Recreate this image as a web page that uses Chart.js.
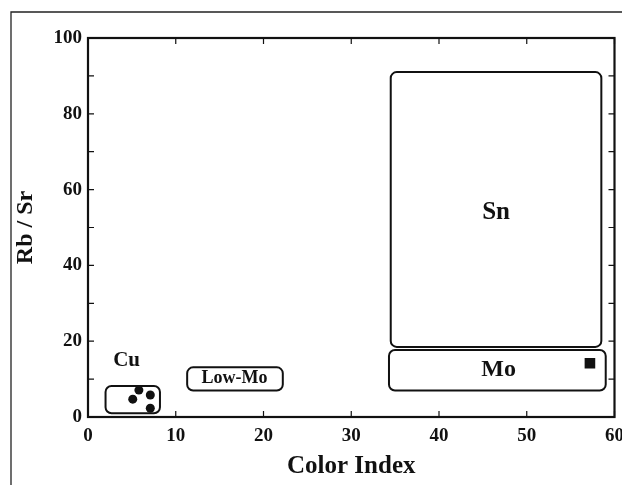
<!DOCTYPE html>
<html>
<head>
<meta charset="utf-8">
<script src="https://cdn.jsdelivr.net/npm/chart.js@4.4.1/dist/chart.umd.min.js"></script>
<style>
  html, body { margin: 0; padding: 0; background: #fff; }
  #wrap { width: 622px; height: 485px; }
</style>
</head>
<body>
<div id="wrap"><canvas id="grafico" width="622" height="485"></canvas></div>
<script>
// valores
const xTicks = [0, 10, 20, 30, 40, 50, 60];
const yTicks = [0, 20, 40, 60, 80, 100];

const cuX = [5.8, 5.1, 7.1, 7.1];
const cuY = [7.1, 4.7, 5.8, 2.3];
const moX = [57.2];
const moY = [14.2];

const campos  = ['Cu', 'Low-Mo', 'Sn', 'Mo'];
const campoX0 = [2.0, 11.3, 34.5, 34.3];
const campoX1 = [8.2, 22.2, 58.5, 59.0];
const campoY0 = [1.0, 7.0, 18.5, 7.0];
const campoY1 = [8.2, 13.1, 91.0, 17.7];
const rotuloX = [4.4, 16.7, 46.5, 46.8];
const rotuloY = [14.8, 10.2, 54.0, 12.4];
const rotuloTam = [21, 18, 25, 24];

const preto = '#111';
const fonte = 'Liberation Serif, Times New Roman, serif';

const campoPlugin = {
  id: 'campos',
  beforeDatasetsDraw(chart) {
    const { ctx, chartArea: a, scales: { x, y } } = chart;
    ctx.save();
    // moldura externa da figura
    ctx.strokeStyle = '#222';
    ctx.lineWidth = 1.3;
    ctx.beginPath();
    ctx.moveTo(11, 485); ctx.lineTo(11, 12); ctx.lineTo(622, 12);
    ctx.stroke();

    // borda do grafico
    ctx.strokeStyle = preto;
    ctx.lineWidth = 2.2;
    ctx.strokeRect(a.left, a.top, a.right - a.left, a.bottom - a.top);

    // marcas para dentro
    ctx.lineWidth = 1.2;
    ctx.beginPath();
    x.ticks.forEach(t => {
      const px = x.getPixelForValue(t.value);
      ctx.moveTo(px, a.bottom); ctx.lineTo(px, a.bottom - 6);
      ctx.moveTo(px, a.top); ctx.lineTo(px, a.top + 6);
    });
    y.ticks.forEach(t => {
      const py = y.getPixelForValue(t.value);
      ctx.moveTo(a.left, py); ctx.lineTo(a.left + 6, py);
      ctx.moveTo(a.right, py); ctx.lineTo(a.right - 6, py);
    });
    ctx.stroke();

    // campos
    ctx.lineWidth = 2;
    campos.forEach((nome, i) => {
      const l = x.getPixelForValue(campoX0[i]);
      const r = x.getPixelForValue(campoX1[i]);
      const t = y.getPixelForValue(campoY1[i]);
      const b = y.getPixelForValue(campoY0[i]);
      ctx.beginPath();
      ctx.roundRect(l, t, r - l, b - t, 6);
      ctx.stroke();
    });

    ctx.fillStyle = preto;
    ctx.textAlign = 'center';
    ctx.textBaseline = 'middle';
    campos.forEach((nome, i) => {
      ctx.font = 'bold ' + rotuloTam[i] + 'px ' + fonte;
      ctx.fillText(nome, x.getPixelForValue(rotuloX[i]), y.getPixelForValue(rotuloY[i]));
    });
    ctx.restore();
  }
};

const tickFont = { family: fonte, size: 19, weight: 'bold' };

new Chart(document.getElementById('grafico'), {
  type: 'scatter',
  data: {
    datasets: [
      {
        label: 'Cu',
        data: cuX.map((v, i) => ({ x: v, y: cuY[i] })),
        pointStyle: 'circle', pointRadius: 4.5,
        backgroundColor: preto, borderColor: preto, borderWidth: 0
      },
      {
        label: 'Mo',
        data: moX.map((v, i) => ({ x: v, y: moY[i] })),
        pointStyle: 'rect', pointRadius: 7.5,
        backgroundColor: preto, borderColor: preto, borderWidth: 0
      }
    ]
  },
  options: {
    responsive: false,
    animation: false,
    layout: { padding: { top: 38, right: 7, left: 0, bottom: 0 } },
    plugins: { legend: { display: false }, tooltip: { enabled: false } },
    scales: {
      x: {
        type: 'linear', min: 0, max: 60,
        grid: { display: false, drawTicks: false }, border: { display: false },
        afterBuildTicks(s) { s.ticks = xTicks.map(v => ({ value: v })); },
        afterFit(s) { s.height = 68; s.paddingLeft = 0; s.paddingRight = 0; },
        ticks: { color: preto, font: tickFont, padding: 8, maxRotation: 0, autoSkip: false },
        title: {
          display: true, text: 'Color Index', color: preto,
          font: { family: fonte, size: 25, weight: 'bold' },
          padding: { top: 0, bottom: 3 }
        }
      },
      y: {
        type: 'linear', min: 0, max: 100,
        grid: { display: false, drawTicks: false }, border: { display: false },
        afterBuildTicks(s) {
          const t = [];
          for (let v = 0; v <= 100; v += 10) t.push({ value: v });
          s.ticks = t;
        },
        afterFit(s) { s.width = 88; s.paddingTop = 0; s.paddingBottom = 0; },
        ticks: {
          color: preto, font: tickFont, padding: 6, autoSkip: false,
          callback: v => yTicks.includes(v) ? String(v) : ''
        },
        title: {
          display: true, text: 'Rb / Sr', color: preto,
          font: { family: fonte, size: 24, weight: 'bold' },
          padding: { top: 11, bottom: 0 }
        }
      }
    }
  },
  plugins: [campoPlugin]
});
</script>
</body>
</html>
